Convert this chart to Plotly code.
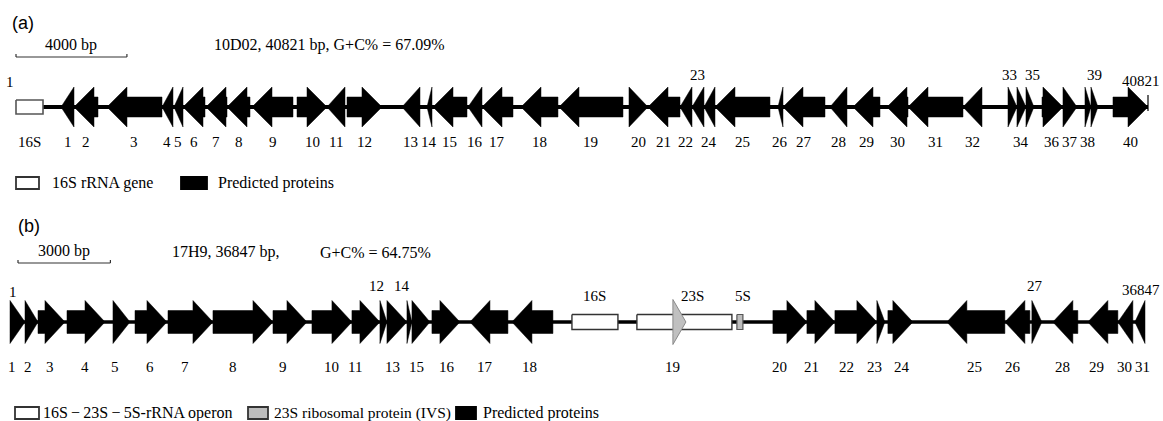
import plotly.graph_objects as go

W, H = 1163, 421

# ---------------- Panel (a): 10D02, 40821 bp ----------------
A_LEN = 40821
A_RRNA = {"name": "16S", "start": 0, "end": 974}
A_GENES = [str(i) for i in range(1, 41)]
A_START = [1623, 2091, 3281, 5265, 5697, 6022, 6851, 7609, 8510, 10133,
           11215, 11936, 13919, 14821, 15037, 16299, 16804, 18210, 19580, 22105,
           22790, 23944, 24377, 24809, 25206, 27478, 27658, 29353, 30182, 31408,
           32166, 34149, 35772, 36096, 36421, 36998, 37755, 38548, 38764, 39558]
A_END = [2091, 2957, 5265, 5661, 6022, 6815, 7609, 8438, 9989, 11215,
         11864, 13198, 14568, 15001, 16263, 16804, 17922, 19544, 21888, 22790,
         23944, 24377, 24809, 25206, 27189, 27658, 29173, 29966, 31156, 32166,
         34149, 34834, 36096, 36421, 36709, 37755, 38260, 38764, 39017, 40821]
A_STRAND = ["-"] * 9 + ["+", "-", "+"] + ["-"] * 7 + ["+"] + ["-"] * 12 + ["+"] * 8
A_TOP_LABELS = ["23", "33", "35", "39"]
# label nudges (bp) where the figure's labels sit off-centre to avoid overlap
A_LABEL_NUDGE = {"33": -110, "35": 80}

# ---------------- Panel (b): 17H9, 36847 bp ----------------
B_LEN = 36847
B_RRNA_NAMES = ["16S", "23S", "5S"]
B_RRNA_START = [18243, 20352, 23598]
B_RRNA_END = [19736, 23436, 23793]
B_GENES = [str(i) for i in range(1, 32)]
B_START = [0, 487, 909, 1850, 3343, 4058, 5129, 6589, 8537, 9803,
           11101, 12010, 12237, 12887, 13049, 13698, 14932, 16295, 21521, 24767,
           25871, 26780, 28143, 28500, 30415, 32298, 33174, 33856, 34992, 35966, 36518]
B_END = [487, 909, 1785, 3084, 3895, 5096, 6589, 8537, 9641, 11101,
         12010, 12237, 12887, 13049, 13633, 14607, 16165, 17626, 21943, 25871,
         26780, 28143, 28403, 29311, 32298, 33109, 33499, 34667, 35966, 36453, 36847]
B_STRAND = ["+"] * 16 + ["-", "-", "+"] + ["+"] * 5 + ["-", "-", "+", "-", "-", "-", "-"]
B_LABEL_POS = [65, 584, 1298, 2435, 3408, 4544, 5681, 7239, 8862, 10452,
               11199, 11913, 12432, 12724, 13211, 14185, 15419, 16879, 21521, 24994,
               26033, 27169, 28078, 28954, 31324, 32557, 33272, 34180, 35284, 36193, 36777]
B_TOP_LABELS = ["12", "14", "27"]
B_IVS_GENE = "19"

# ---------------- pixel geometry (style) ----------------
A_X0, A_X1 = 16, 1148
B_X0, B_X1 = 10, 1145
ppb_a = (A_X1 - A_X0) / A_LEN
ppb_b = (B_X1 - B_X0) / B_LEN
range_a = [-A_X0 / ppb_a, (W - A_X0) / ppb_a]
range_b = [-B_X0 / ppb_b, (W - B_X0) / ppb_b]

SERIF = "Liberation Serif"
SANS = "Liberation Sans"
NUM_SIZE = 15
TXT_SIZE = 16

fig = go.Figure()


def arrow_poly(s, e, strand, yc, body_h, head_h, head_len):
    L = e - s
    h = min(head_len, L)
    bt, bb = yc - body_h / 2, yc + body_h / 2
    ht, hb = yc - head_h / 2, yc + head_h / 2
    if strand == "+":
        b = e - h
        xs = [s, b, b, e, b, b, s, s]
    else:
        b = s + h
        xs = [e, b, b, s, b, b, e, e]
    ys = [bt, bt, ht, yc, hb, bb, bb, bt]
    return xs, ys


def add_polys(polys, xaxis, fill, line_color, lw):
    xs, ys = [], []
    for px, py in polys:
        xs += px + [None]
        ys += py + [None]
    fig.add_trace(go.Scatter(x=xs, y=ys, xaxis=xaxis, yaxis="y", mode="lines",
                             fill="toself", fillcolor=fill,
                             line=dict(color=line_color, width=lw),
                             hoverinfo="skip", showlegend=False))


def box(s, e, yc, h):
    return [s, e, e, s, s], [yc - h / 2, yc - h / 2, yc + h / 2, yc + h / 2, yc - h / 2]


# ---- Panel (a) drawing ----
YA = 107
fig.add_trace(go.Scatter(x=[0, A_LEN], y=[YA, YA], xaxis="x", yaxis="y", mode="lines",
                         line=dict(color="black", width=4), hoverinfo="skip", showlegend=False))
add_polys([box(A_RRNA["start"], A_RRNA["end"], YA, 14)], "x", "white", "#555555", 1.6)
head_a = 20 / ppb_a
add_polys([arrow_poly(s, e, st, YA, 20, 40, head_a)
           for s, e, st in zip(A_START, A_END, A_STRAND)], "x", "black", "black", 0.5)
fig.add_trace(go.Scatter(x=[A_LEN, A_LEN], y=[95, 111], xaxis="x", yaxis="y", mode="lines",
                         line=dict(color="black", width=1.2), hoverinfo="skip", showlegend=False))

# ---- Panel (b) drawing ----
YB = 322
fig.add_trace(go.Scatter(x=[0, B_LEN], y=[YB, YB], xaxis="x2", yaxis="y", mode="lines",
                         line=dict(color="black", width=3.5), hoverinfo="skip", showlegend=False))
add_polys([box(s, e, YB, 15) for s, e, n in zip(B_RRNA_START, B_RRNA_END, B_RRNA_NAMES) if n != "5S"],
          "x2", "white", "#333333", 1.4)
add_polys([box(s, e, YB, 15) for s, e, n in zip(B_RRNA_START, B_RRNA_END, B_RRNA_NAMES) if n == "5S"],
          "x2", "#bdbdbd", "#555555", 1.2)
head_b = 20 / ppb_b
add_polys([arrow_poly(s, e, st, YB, 23, 43, head_b)
           for s, e, st, g in zip(B_START, B_END, B_STRAND, B_GENES) if g != B_IVS_GENE],
          "x2", "black", "black", 0.5)
add_polys([arrow_poly(s, e, st, YB, 23, 45, head_b)
           for s, e, st, g in zip(B_START, B_END, B_STRAND, B_GENES) if g == B_IVS_GENE],
          "x2", "#c0c0c0", "#8a8a8a", 1)

ann = []


def txt(x, y, text, xref="x", size=NUM_SIZE, font=SERIF, xanchor="center", yanchor="middle"):
    ann.append(dict(x=x, y=y, xref=xref, yref="y", text=text, showarrow=False,
                    font=dict(family=font, size=size, color="black"),
                    xanchor=xanchor, yanchor=yanchor))


# labels (a)
txt((A_RRNA["start"] + A_RRNA["end"]) / 2, 142, A_RRNA["name"])
txt(0, 82, "1", xanchor="right")
for g, s, e in zip(A_GENES, A_START, A_END):
    c = (s + e) / 2 + A_LABEL_NUDGE.get(g, 0)
    txt(c, 75 if g in A_TOP_LABELS else 142, g)

# labels (b)
for n, s, e in zip(B_RRNA_NAMES, B_RRNA_START, B_RRNA_END):
    pos = {"16S": (s + e) / 2, "23S": s + (e - s) * 0.58, "5S": e}[n]
    txt(pos, 296, n, xref="x2")
txt(90, 292, "1", xref="x2")
for g, p in zip(B_GENES, B_LABEL_POS):
    if g in B_TOP_LABELS:
        txt(p, 286, g, xref="x2")
    else:
        txt(p, 367, g, xref="x2")

# total lengths at the right end (right-aligned to the page edge)
ann.append(dict(x=1.0, y=81, xref="paper", yref="y", text=str(A_LEN), showarrow=False,
                font=dict(family=SERIF, size=NUM_SIZE, color="black"),
                xanchor="right", yanchor="middle", xshift=-1))
ann.append(dict(x=1.0, y=290, xref="paper", yref="y", text=str(B_LEN), showarrow=False,
                font=dict(family=SERIF, size=NUM_SIZE, color="black"),
                xanchor="right", yanchor="middle", xshift=-1))


def px_a(px):
    return (px - A_X0) / ppb_a


def px_b(px):
    return (px - B_X0) / ppb_b


shapes = []


def scalebar(xref, x0, x1, y):
    shapes.append(dict(type="line", xref=xref, yref="y", x0=x0, x1=x1, y0=y, y1=y,
                       line=dict(color="#333333", width=1.2)))
    for xx in (x0, x1):
        shapes.append(dict(type="line", xref=xref, yref="y", x0=xx, x1=xx, y0=y, y1=y - 3,
                           line=dict(color="#333333", width=1.2)))


scalebar("x", 0, 4000, 57)
txt(2000, 45, "4000 bp", size=TXT_SIZE)
scalebar("x2", px_b(18), px_b(18) + 3000, 263)
txt(px_b(18) + 1500, 251, "3000 bp", xref="x2", size=TXT_SIZE)

txt(px_a(212), 45, "10D02, 40821 bp, G+C% = 67.09%", xanchor="left", size=TXT_SIZE)
txt(px_b(170), 252, "17H9, 36847 bp,", xref="x2", xanchor="left", size=TXT_SIZE)
txt(px_b(318), 252, "G+C% = 64.75%", xref="x2", xanchor="left", size=TXT_SIZE)

txt(px_a(10), 23, "(a)", size=18, font=SANS, xanchor="left")
txt(px_b(10), 226, "(b)", size=18, font=SANS, xanchor="left")


def legbox(x0, y0, x1, y1, fill, line):
    shapes.append(dict(type="rect", xref="paper", yref="y", x0=x0 / W, x1=x1 / W, y0=y0, y1=y1,
                       fillcolor=fill, line=dict(color=line, width=1.8)))


def legtxt(x, y, text, size=TXT_SIZE):
    ann.append(dict(x=x / W, y=y, xref="paper", yref="y", text=text, showarrow=False,
                    font=dict(family=SERIF, size=size, color="black"),
                    xanchor="left", yanchor="middle"))


legbox(16, 177, 39, 189, "white", "#333333")
legtxt(50, 183, "16S rRNA gene")
legbox(181, 177, 207, 189, "black", "black")
legtxt(216, 183, "Predicted proteins")

legbox(15, 407, 39, 419, "white", "#333333")
legtxt(41, 413, "16S\u2009\u2212\u200923S\u2009\u2212\u20095S-rRNA operon")
legbox(248, 407, 268, 419, "#bdbdbd", "#333333")
legtxt(272, 413, "23S ribosomal protein (IVS)", size=15.5)
legbox(456, 407, 476, 419, "black", "black")
legtxt(481, 413, "Predicted proteins")

fig.update_layout(
    width=W, height=H, autosize=False,
    margin=dict(l=0, r=0, t=0, b=0),
    paper_bgcolor="white", plot_bgcolor="white",
    xaxis=dict(range=range_a, domain=[0, 1], visible=False, fixedrange=True),
    xaxis2=dict(range=range_b, domain=[0, 1], visible=False, overlaying="x", fixedrange=True),
    yaxis=dict(range=[H, 0], domain=[0, 1], visible=False, fixedrange=True),
    annotations=ann, shapes=shapes, showlegend=False,
)

fig.write_html("out.html", config={"displayModeBar": False},
               post_script="document.body.style.margin='0';document.body.style.overflow='hidden';")
